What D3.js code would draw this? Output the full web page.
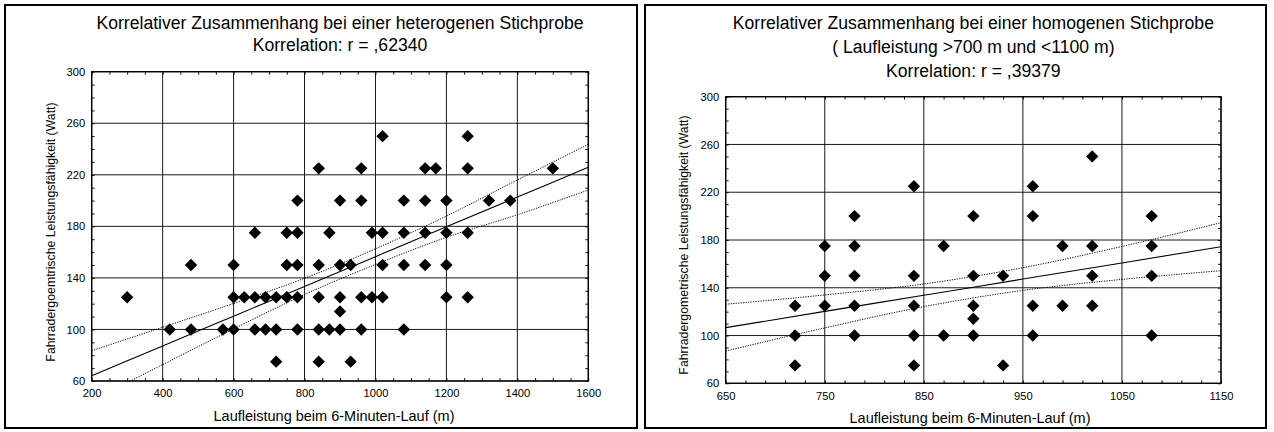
<!DOCTYPE html>
<html><head><meta charset="utf-8">
<script src="https://cdn.jsdelivr.net/npm/d3@7"></script>
<style>
body{margin:0;background:#fff}
svg{display:block}
text{font-family:"Liberation Sans",Arial,Helvetica,sans-serif;fill:#000}
</style>
</head><body>
<svg id="chart" width="1274" height="432"></svg>
<script>
// ---------- DATA ----------
const heteroTitle = ["Korrelativer Zusammenhang bei einer heterogenen Stichprobe", "Korrelation: r = ,62340"];
const homoTitle = ["Korrelativer Zusammenhang bei einer homogenen Stichprobe", "( Laufleistung >700 m und <1100 m)", "Korrelation: r = ,39379"];
const xAxisTitle = "Laufleistung beim 6-Minuten-Lauf (m)";
const heteroYTitle = "Fahrradergoemtrische Leistungsfähigkeit (Watt)";
const homoYTitle = "Fahrradergometrische Leistungsfähigkeit (Watt)";

const heteroXTicks = [200, 400, 600, 800, 1000, 1200, 1400, 1600];
const homoXTicks = [650, 750, 850, 950, 1050, 1150];
const yTicks = [60, 100, 140, 180, 220, 260, 300];

const heteroX = [300, 420, 480,480, 570, 600,600,600, 630, 660,660,660, 690,690, 720,720,720, 750,750,750,
  780,780,780,780,780, 840,840,840,840,840, 870,870, 900,900,900,900,900, 930,930, 960,960,960,960, 990,990,
  1020,1020,1020,1020, 1080,1080,1080,1080, 1140,1140,1140,1140, 1170, 1200,1200,1200,1200, 1260,1260,1260,1260,
  1320, 1380, 1500];
const heteroY = [125, 100, 150,100, 100, 150,125,100, 125, 175,125,100, 125,100, 125,100,75, 175,150,125,
  200,175,150,125,100, 225,150,125,100,75, 175,100, 200,150,125,114,100, 150,75, 225,200,125,100, 175,125,
  250,175,150,125, 200,175,150,100, 225,200,175,150, 225, 200,175,150,125, 250,225,175,125,
  200, 200, 225];

const homoX = [720,720,720, 750,750,750, 780,780,780,780,780, 840,840,840,840,840, 870,870,
  900,900,900,900,900, 930,930, 960,960,960,960, 990,990, 1020,1020,1020,1020, 1080,1080,1080,1080];
const homoY = [125,100,75, 175,150,125, 200,175,150,125,100, 225,150,125,100,75, 175,100,
  200,150,125,114,100, 150,75, 225,200,125,100, 175,125, 250,175,150,125, 200,175,150,100];

// regression line and confidence band
const heteroFitX  = [200, 400, 600, 800, 1000, 1200, 1400, 1600];
const heteroFit   = [64.1, 87.2, 110.3, 133.4, 156.5, 179.6, 202.7, 225.8];
const heteroUpper = [83.5, 101.7, 120.2, 139.7, 162.6, 188.0, 216.0, 243.6];
const heteroLower = [44.7, 72.7, 100.4, 127.1, 150.4, 171.5, 189.0, 208.2];

const homoFitX  = [650, 750, 850, 950, 1050, 1150];
const homoFit   = [106.6, 120.2, 133.7, 147.3, 160.8, 174.4];
const homoUpper = [126.2, 134.0, 143.2, 156.8, 174.6, 194.5];
const homoLower = [87.0, 106.4, 124.2, 137.8, 147.0, 154.3];

// ---------- DRAW ----------
const svg = d3.select("#chart");
svg.append("rect").attr("width", 1274).attr("height", 432).attr("fill", "#fff");

function drawPanel(o) {
  const g = svg.append("g");
  // outer border
  g.append("rect").attr("x", o.box[0]).attr("y", o.box[1]).attr("width", o.box[2]).attr("height", o.box[3])
    .attr("fill", "none").attr("stroke", "#000").attr("stroke-width", 2);

  const x = d3.scaleLinear().domain(o.xDomain).range([o.left, o.right]);
  const y = d3.scaleLinear().domain([60, 300]).range([o.bottom, o.top]);
  const W = o.right - o.left, H = o.bottom - o.top;

  // titles
  o.title.forEach((t, i) => {
    g.append("text").attr("x", (o.left + o.right) / 2).attr("y", o.titleY[i])
      .attr("text-anchor", "middle").style("font-size", "17.6px").text(t);
  });

  // grid
  const grid = g.append("g").attr("stroke", "#1a1a1a").attr("stroke-width", 1);
  o.xTicks.forEach(v => grid.append("line").attr("x1", x(v)).attr("x2", x(v)).attr("y1", o.top).attr("y2", o.bottom));
  yTicks.forEach(v => grid.append("line").attr("x1", o.left).attr("x2", o.right).attr("y1", y(v)).attr("y2", y(v)));

  // minor ticks (inward) on all four sides
  const xMinor = d3.range(o.xDomain[0], o.xDomain[1] + 0.1, o.xMinorStep);
  const yMinor = d3.range(60, 300.1, 10);
  const mk = (axis, tr) => g.append("g").attr("transform", tr)
      .call(axis.tickSize(-3).tickFormat("")).call(s => s.select(".domain").remove())
      .call(s => s.selectAll("line").attr("stroke", "#000").attr("stroke-width", 0.9));
  mk(d3.axisBottom(x).tickValues(xMinor), `translate(0,${o.bottom})`);
  mk(d3.axisTop(x).tickValues(xMinor), `translate(0,${o.top})`);
  mk(d3.axisLeft(y).tickValues(yMinor), `translate(${o.left},0)`);
  mk(d3.axisRight(y).tickValues(yMinor), `translate(${o.right},0)`);

  // tick labels
  g.append("g").attr("transform", `translate(0,${o.bottom})`)
    .call(d3.axisBottom(x).tickValues(o.xTicks).tickSize(0).tickPadding(8.5).tickFormat(d3.format("d")))
    .call(s => s.select(".domain").remove())
    .call(s => s.selectAll("text").style("font-size", "11.2px").style("font-family", '"Liberation Sans",Arial,sans-serif').attr("fill", "#000"));
  g.append("g").attr("transform", `translate(${o.left},0)`)
    .call(d3.axisLeft(y).tickValues(yTicks).tickSize(0).tickPadding(6.5).tickFormat(d3.format("d")))
    .call(s => s.select(".domain").remove())
    .call(s => s.selectAll("text").style("font-size", "11.2px").style("font-family", '"Liberation Sans",Arial,sans-serif').attr("fill", "#000"));

  // axis titles
  g.append("text").attr("x", o.xTitleX).attr("y", o.xTitleY).attr("text-anchor", "middle")
    .style("font-size", "14.5px").text(xAxisTitle);
  g.append("text").attr("transform", `translate(${o.yTitleX},${o.yTitleY}) rotate(-90)`).attr("text-anchor", "middle")
    .style("font-size", "12.3px").text(o.yTitle);

  // clip
  const cid = "clip" + o.id;
  g.append("clipPath").attr("id", cid).append("rect").attr("x", o.left).attr("y", o.top).attr("width", W).attr("height", H);

  // points
  const diamond = "M0,-6.2L6.2,0L0,6.2L-6.2,0Z";
  g.append("g").selectAll("path").data(o.px.map((v, i) => [v, o.py[i]])).join("path")
    .attr("d", diamond).attr("transform", d => `translate(${x(d[0])},${y(d[1])})`).attr("fill", "#000");

  // fit lines
  const lg = g.append("g").attr("clip-path", `url(#${cid})`).attr("fill", "none").attr("stroke", "#000");
  const line = d3.line().x(d => x(d[0])).y(d => y(d[1])).curve(d3.curveMonotoneX);
  lg.append("path").attr("d", line(o.fitX.map((v, i) => [v, o.fit[i]]))).attr("stroke-width", 1.1);
  lg.append("path").attr("d", line(o.fitX.map((v, i) => [v, o.up[i]]))).attr("stroke-width", 1).attr("stroke-dasharray", "1.2,1.3");
  lg.append("path").attr("d", line(o.fitX.map((v, i) => [v, o.lo[i]]))).attr("stroke-width", 1).attr("stroke-dasharray", "1.2,1.3");

  // plot frame
  g.append("rect").attr("x", o.left).attr("y", o.top).attr("width", W).attr("height", H)
    .attr("fill", "none").attr("stroke", "#000").attr("stroke-width", 1.3);
}

drawPanel({
  id: "L", box: [5, 5, 632, 423],
  left: 91.7, right: 588.3, top: 71.7, bottom: 381,
  xDomain: [200, 1600], xTicks: heteroXTicks, xMinorStep: 50,
  title: heteroTitle, titleY: [29, 51],
  xTitleX: 334, xTitleY: 421, yTitle: heteroYTitle, yTitleX: 55, yTitleY: 232,
  px: heteroX, py: heteroY, fitX: heteroFitX, fit: heteroFit, up: heteroUpper, lo: heteroLower
});
drawPanel({
  id: "R", box: [645, 5, 621, 423],
  left: 725.7, right: 1221, top: 96.7, bottom: 383.3,
  xDomain: [650, 1150], xTicks: homoXTicks, xMinorStep: 20,
  title: homoTitle, titleY: [29, 53, 77],
  xTitleX: 970, xTitleY: 423, yTitle: homoYTitle, yTitleX: 688, yTitleY: 245,
  px: homoX, py: homoY, fitX: homoFitX, fit: homoFit, up: homoUpper, lo: homoLower
});
</script>
</body></html>
